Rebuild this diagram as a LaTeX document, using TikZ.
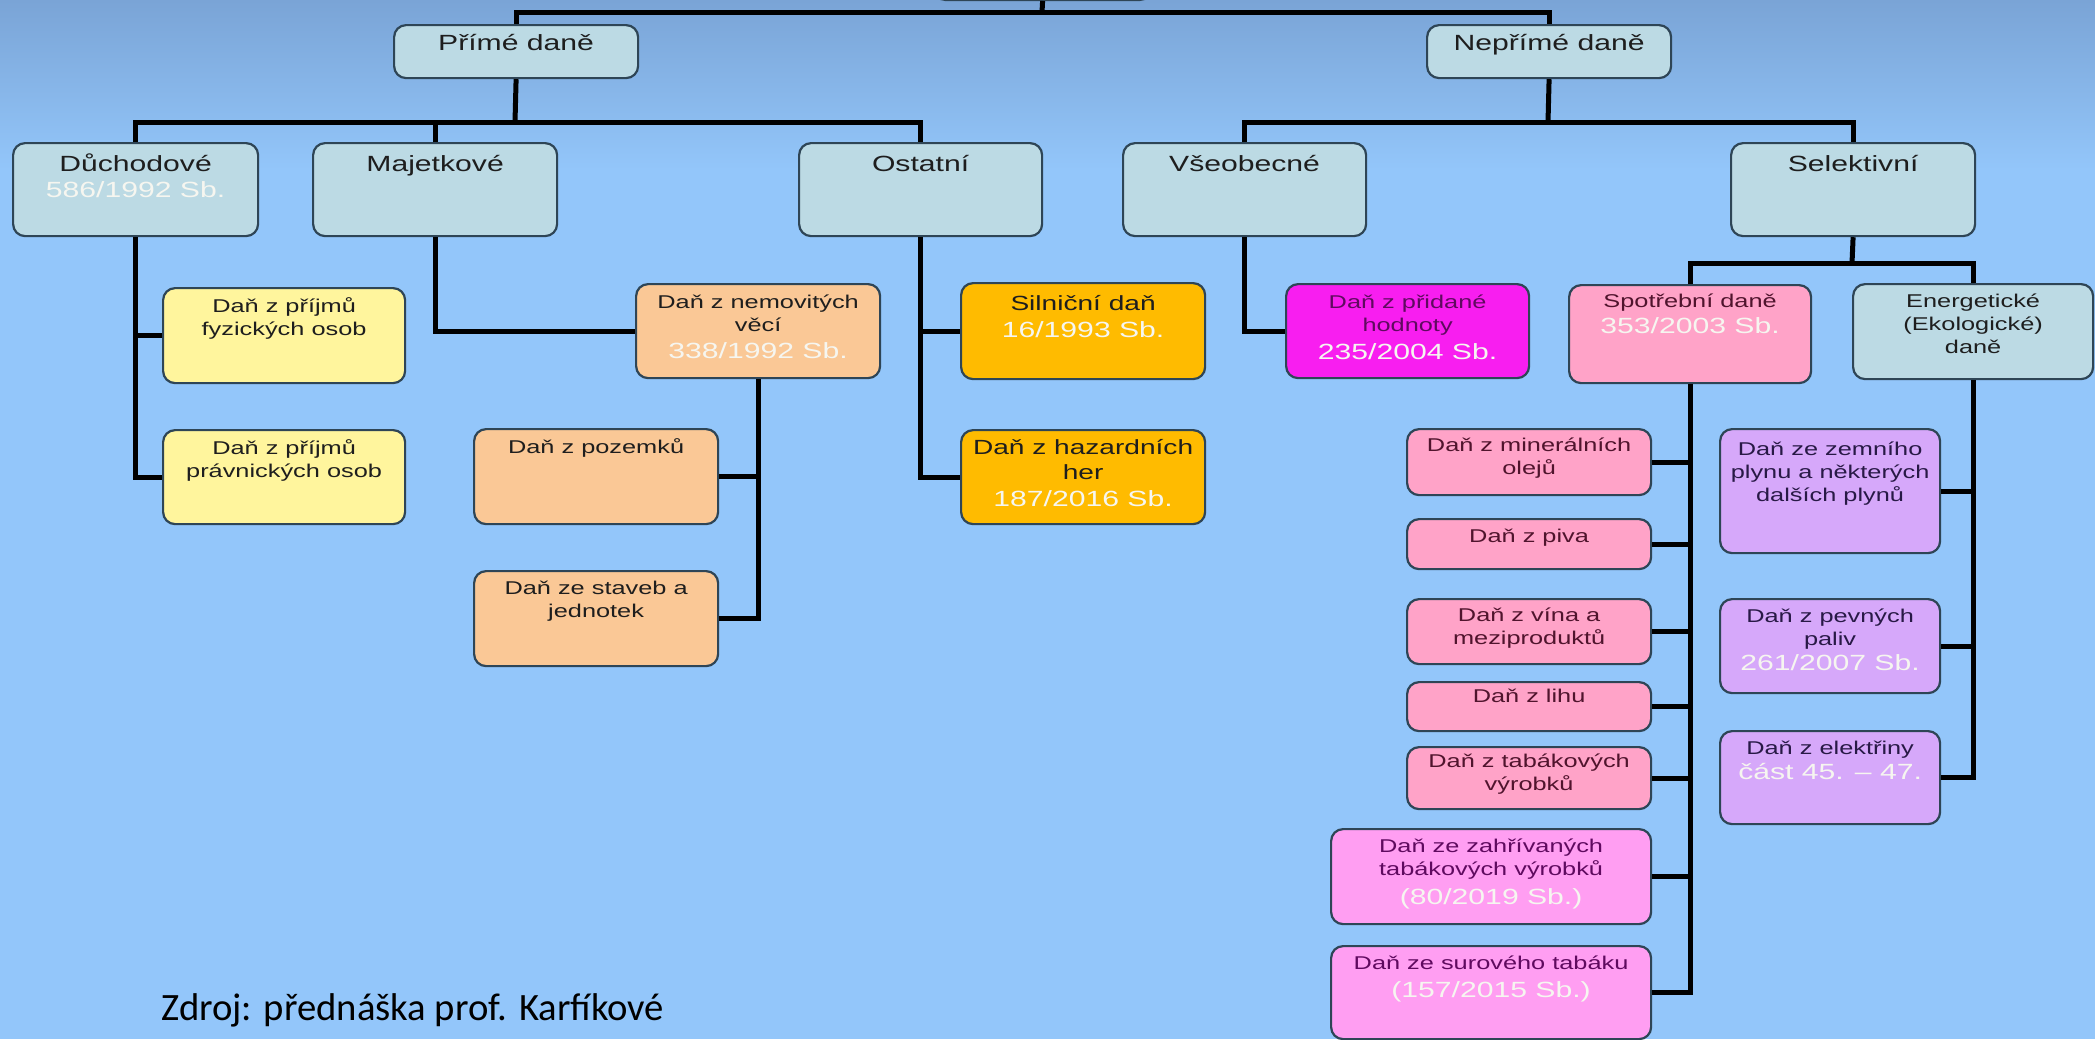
\documentclass[tikz,border=0pt]{standalone}
\usepackage{fontspec}
\usepackage{xcolor}
\usepackage{tikz}
\newfontfamily\boxfont[FakeStretch=1.37]{Liberation Sans}
\newfontfamily\zdrojfont{Carlito}
\definecolor{pozadi}{RGB}{147,198,250}
\definecolor{pozadihore}{RGB}{122,164,214}
\definecolor{okraj}{RGB}{46,69,86}
\definecolor{sedomodra}{RGB}{188,218,228}
\definecolor{zluta}{RGB}{255,245,157}
\definecolor{broskev}{RGB}{250,200,150}
\definecolor{oranzova}{RGB}{255,187,0}
\definecolor{purpur}{RGB}{248,30,240}
\definecolor{ruzova}{RGB}{255,163,200}
\definecolor{svruzova}{RGB}{255,158,242}
\definecolor{fialova}{RGB}{214,168,250}
\definecolor{zakon}{RGB}{246,246,240}
\definecolor{tmtext}{RGB}{30,30,30}
\definecolor{tmpurpur}{RGB}{95,10,95}
\definecolor{tmruzova}{RGB}{80,20,45}
\definecolor{tmfialova}{RGB}{40,25,70}
\newcommand{\cislo}[1]{{\color{zakon}\fontsize{22}{26}\selectfont #1}}
\newcommand{\vrch}[1]{\rule{0pt}{#1}}
\tikzset{karta/.style={draw=okraj, line width=2.2pt, rounded corners=12pt, fill=#1, anchor=north west, inner sep=0pt}, txt/.style={anchor=north, align=center, inner sep=0pt, text=tmtext, font=\boxfont\fontsize{18.5}{23}\selectfont}, velky/.style={font=\boxfont\fontsize{22}{26}\selectfont}, stredni/.style={font=\boxfont\fontsize{20.5}{25}\selectfont}, vetev/.style={line width=5pt, black}}

\begin{document}
\begin{tikzpicture}[x=1pt, y=-1pt]
    \fill[pozadi] (0,0) rectangle (2095,1039);
    \shade[top color=pozadihore, bottom color=pozadi] (0,0) rectangle (2095,170);
    \useasboundingbox (0,0) rectangle (2095,1039);
    \node[karta=sedomodra, anchor=south west, minimum width=219pt, minimum height=60pt] (koren) at (932,1) {};
    \node[karta=sedomodra, minimum width=244pt, minimum height=53pt, label={[txt, velky]north:{\vrch{26.5pt}Přímé daně}}] (prime) at (393,24) {};
    \node[karta=sedomodra, minimum width=244pt, minimum height=53pt, label={[txt, velky]north:{\vrch{26.5pt}Nepřímé daně}}] (neprime) at (1426,24) {};
    \node[karta=sedomodra, minimum width=245pt, minimum height=93pt, label={[txt, velky]north:{\vrch{29pt}Důchodové\\\cislo{586/1992 Sb.}}}] (duchodove) at (12,142) {};
    \node[karta=sedomodra, minimum width=244pt, minimum height=93pt, label={[txt, velky]north:{\vrch{29pt}Majetkové}}] (majetkove) at (312,142) {};
    \node[karta=sedomodra, minimum width=243pt, minimum height=93pt, label={[txt, velky]north:{\vrch{29pt}Ostatní}}] (ostatni) at (798,142) {};
    \node[karta=sedomodra, minimum width=243pt, minimum height=93pt, label={[txt, velky]north:{\vrch{29pt}Všeobecné}}] (vseobecne) at (1122,142) {};
    \node[karta=sedomodra, minimum width=244pt, minimum height=93pt, label={[txt, velky]north:{\vrch{29pt}Selektivní}}] (selektivni) at (1730,142) {};

    \node[karta=zluta, minimum width=242pt, minimum height=95pt, label={[txt]north:{\vrch{25.5pt}Daň z příjmů\\fyzických osob}}] (fyzicke) at (162,287) {};
    \node[karta=zluta, minimum width=242pt, minimum height=94pt, label={[txt]north:{\vrch{25.5pt}Daň z příjmů\\právnických osob}}] (pravnicke) at (162,429) {};
    \node[karta=broskev, minimum width=244pt, minimum height=94pt, label={[txt]north:{\vrch{25.5pt}Daň z nemovitých\\věcí\\[4pt]\cislo{338/1992 Sb.}}}] (nemovite) at (635,283) {};
    \node[karta=broskev, minimum width=244pt, minimum height=95pt, label={[txt]north:{\vrch{25.3pt}Daň z pozemků}}] (pozemky) at (473,428) {};
    \node[karta=broskev, minimum width=244pt, minimum height=95pt, label={[txt]north:{\vrch{24.3pt}Daň ze staveb a\\jednotek}}] (stavby) at (473,570) {};
    \node[karta=oranzova, minimum width=244pt, minimum height=96pt, label={[txt, stredni]north:{\vrch{28pt}Silniční daň\\[2pt]\cislo{16/1993 Sb.}}}] (silnicni) at (960,282) {};
    \node[karta=oranzova, minimum width=244pt, minimum height=94pt, label={[txt, stredni]north:{\vrch{25pt}Daň z hazardních\\her\\[2pt]\cislo{187/2016 Sb.}}}] (hazard) at (960,429) {};
    \node[karta=purpur, minimum width=243pt, minimum height=94pt, label={[txt, text=tmpurpur]north:{\vrch{25.3pt}Daň z přidané\\hodnoty\\[5pt]\cislo{235/2004 Sb.}}}] (dph) at (1285,283) {};
    \node[karta=ruzova, minimum width=242pt, minimum height=98pt, label={[txt, text=tmruzova]north:{\vrch{23.6pt}Spotřební daně\\[3pt]\cislo{353/2003 Sb.}}}] (spotrebni) at (1568,284) {};
    \node[karta=sedomodra, minimum width=240pt, minimum height=95pt, label={[txt]north:{\vrch{24.6pt}Energetické\\(Ekologické)\\daně}}] (energeticke) at (1852,283) {};

    \foreach \jm/\y/\h/\rr/\txt in {mineralni/428/66/23.6/{Daň z minerálních\\olejů}, piva/518/50/24.6/{Daň z piva}, vina/598/65/23/{Daň z vína a\\meziproduktů}, lihu/681/49/21.6/{Daň z lihu}, tabak/746/62/21.6/{Daň z tabákových\\výrobků}} {
      \node[karta=ruzova, minimum width=244pt, minimum height=\h pt, label={[txt, text=tmruzova]north:{\vrch{\rr pt}\txt}}] (\jm) at (1406,\y) {};
    }
    \node[karta=svruzova, minimum width=320pt, minimum height=95pt, label={[txt, text=tmpurpur]north:{\vrch{24.6pt}Daň ze zahřívaných\\tabákových výrobků\\[6pt]\cislo{(80/2019 Sb.)}}}] (zahrivane) at (1330,828) {};
    \node[karta=svruzova, minimum width=320pt, minimum height=93pt, label={[txt, text=tmpurpur]north:{\vrch{24.3pt}Daň ze surového tabáku\\[5pt]\cislo{(157/2015 Sb.)}}}] (surovy) at (1330,945) {};
    \node[karta=fialova, minimum width=220pt, minimum height=124pt, label={[txt, text=tmfialova]north:{\vrch{27.6pt}Daň ze zemního\\plynu a některých\\dalších plynů}}] (plyn) at (1719,428) {};
    \node[karta=fialova, minimum width=220pt, minimum height=94pt, label={[txt, text=tmfialova]north:{\vrch{24.6pt}Daň z pevných\\paliv\\[2pt]\cislo{261/2007 Sb.}}}] (pevne) at (1719,598) {};
    \node[karta=fialova, minimum width=220pt, minimum height=93pt, label={[txt, text=tmfialova]north:{\vrch{24.6pt}Daň z elektřiny\\[2pt]\cislo{část 45. – 47.}}}] (elektrina) at (1719,730) {};

    \coordinate (hlava) at (1042,12);
    \coordinate (rozcesti1) at (515,122);
    \coordinate (rozcesti2) at (1548,122);
    \coordinate (rozcesti3) at (1852,263);
    \draw[vetev] (koren.south) -- (hlava);
    \draw[vetev] (prime.north) |- (hlava) -| (neprime.north);
    \draw[vetev] (prime.south) -- (rozcesti1);
    \draw[vetev] (duchodove.north) |- (rozcesti1) -| (ostatni.north);
    \draw[vetev] (majetkove.north) -- (majetkove.north |- rozcesti1);
    \draw[vetev] (neprime.south) -- (rozcesti2);
    \draw[vetev] (vseobecne.north) |- (rozcesti2) -| (selektivni.north);
    \draw[vetev] (selektivni.south) -- (rozcesti3);
    \draw[vetev] (spotrebni.north) |- (rozcesti3) -| (energeticke.north);
    \draw[vetev] (duchodove.south) |- (fyzicke.west);
    \draw[vetev] (duchodove.south) |- (pravnicke.west);
    \draw[vetev] (majetkove.south) |- (nemovite.west);
    \draw[vetev] (nemovite.south) |- (pozemky.east);
    \draw[vetev] (nemovite.south) |- (stavby.east);
    \draw[vetev] (ostatni.south) |- (silnicni.west);
    \draw[vetev] (ostatni.south) |- (hazard.west);
    \draw[vetev] (vseobecne.south) |- (dph.west);
    \foreach \jm in {mineralni,piva,vina,lihu,tabak,zahrivane,surovy} {
      \draw[vetev] (spotrebni.south) |- (\jm.east);
    }
    \foreach \jm in {plyn,pevne,elektrina} {
      \draw[vetev] (energeticke.south) |- (\jm.east);
    }

    \node[anchor=base west, inner sep=0pt, font=\zdrojfont\fontsize{38.7}{44}\selectfont] (zdroj) at (161,1020) {Zdroj: přednáška prof. Karfíkové};
  \end{tikzpicture}
\end{document}
